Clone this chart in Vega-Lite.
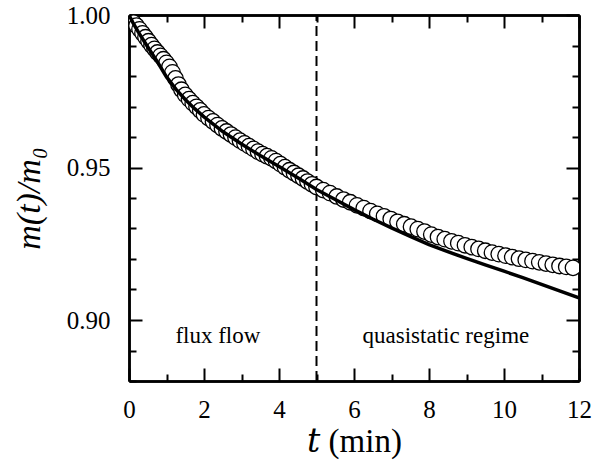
{
  "$schema": "https://vega.github.io/schema/vega-lite/v6.json",
  "width": 450,
  "height": 366,
  "autosize": "none",
  "padding": {"left": 129, "top": 15, "right": 23, "bottom": 84},
  "background": "white",
  "datasets": {
    "pts": [
      {"t": 0.05, "m": 0.9985}, {"t": 0.12, "m": 0.9975}, {"t": 0.2, "m": 0.9965}, {"t": 0.28, "m": 0.9953},
      {"t": 0.36, "m": 0.994}, {"t": 0.44, "m": 0.9927}, {"t": 0.52, "m": 0.9914}, {"t": 0.6, "m": 0.9901},
      {"t": 0.68, "m": 0.9889}, {"t": 0.76, "m": 0.9877}, {"t": 0.84, "m": 0.9866}, {"t": 0.92, "m": 0.9855},
      {"t": 1.0, "m": 0.9843}, {"t": 1.08, "m": 0.983}, {"t": 1.16, "m": 0.9812}, {"t": 1.24, "m": 0.9792},
      {"t": 1.32, "m": 0.9772}, {"t": 1.4, "m": 0.9755}, {"t": 1.5, "m": 0.9738}, {"t": 1.6, "m": 0.9724},
      {"t": 1.7, "m": 0.9711}, {"t": 1.8, "m": 0.9699}, {"t": 1.9, "m": 0.9687}, {"t": 2.0, "m": 0.9674},
      {"t": 2.12, "m": 0.9662}, {"t": 2.24, "m": 0.9651}, {"t": 2.36, "m": 0.9639}, {"t": 2.48, "m": 0.9628},
      {"t": 2.6, "m": 0.9618}, {"t": 2.72, "m": 0.9608}, {"t": 2.84, "m": 0.9598}, {"t": 2.96, "m": 0.9588},
      {"t": 3.08, "m": 0.9579}, {"t": 3.2, "m": 0.957}, {"t": 3.32, "m": 0.9561}, {"t": 3.44, "m": 0.9552},
      {"t": 3.56, "m": 0.9544}, {"t": 3.68, "m": 0.9537}, {"t": 3.8, "m": 0.953}, {"t": 3.92, "m": 0.9521},
      {"t": 4.04, "m": 0.9511}, {"t": 4.16, "m": 0.9501}, {"t": 4.28, "m": 0.9491}, {"t": 4.4, "m": 0.9482},
      {"t": 4.52, "m": 0.9473}, {"t": 4.64, "m": 0.9464}, {"t": 4.76, "m": 0.9454}, {"t": 4.88, "m": 0.9445},
      {"t": 5.0, "m": 0.9436}, {"t": 5.18, "m": 0.9426}, {"t": 5.36, "m": 0.9416}, {"t": 5.54, "m": 0.9405},
      {"t": 5.72, "m": 0.9395}, {"t": 5.9, "m": 0.9386}, {"t": 6.08, "m": 0.9376}, {"t": 6.26, "m": 0.9367},
      {"t": 6.44, "m": 0.9357}, {"t": 6.62, "m": 0.9348}, {"t": 6.8, "m": 0.934}, {"t": 6.98, "m": 0.9331},
      {"t": 7.16, "m": 0.9322}, {"t": 7.34, "m": 0.9314}, {"t": 7.52, "m": 0.9306}, {"t": 7.7, "m": 0.9298},
      {"t": 7.88, "m": 0.929}, {"t": 8.06, "m": 0.928}, {"t": 8.24, "m": 0.9272}, {"t": 8.42, "m": 0.9265},
      {"t": 8.6, "m": 0.9258}, {"t": 8.78, "m": 0.9252}, {"t": 8.96, "m": 0.9245}, {"t": 9.14, "m": 0.9239},
      {"t": 9.32, "m": 0.9233}, {"t": 9.5, "m": 0.9227}, {"t": 9.68, "m": 0.9221}, {"t": 9.86, "m": 0.9216},
      {"t": 10.04, "m": 0.9211}, {"t": 10.22, "m": 0.9206}, {"t": 10.4, "m": 0.9201}, {"t": 10.58, "m": 0.9197},
      {"t": 10.76, "m": 0.9193}, {"t": 10.94, "m": 0.9189}, {"t": 11.12, "m": 0.9185}, {"t": 11.3, "m": 0.9181},
      {"t": 11.48, "m": 0.9177}, {"t": 11.66, "m": 0.9174}, {"t": 11.84, "m": 0.9171}
    ],
    "fit": [
      {"t": 0, "m": 1.0}, {"t": 0.1, "m": 0.9976}, {"t": 0.25, "m": 0.9944}, {"t": 0.5, "m": 0.9895},
      {"t": 0.75, "m": 0.9848}, {"t": 1.0, "m": 0.9797}, {"t": 1.25, "m": 0.9757}, {"t": 1.5, "m": 0.9723},
      {"t": 1.75, "m": 0.9693}, {"t": 2.0, "m": 0.9666}, {"t": 2.5, "m": 0.9618}, {"t": 3.0, "m": 0.9577},
      {"t": 3.5, "m": 0.9539}, {"t": 4.0, "m": 0.9503}, {"t": 4.5, "m": 0.9466}, {"t": 5.0, "m": 0.9428},
      {"t": 5.5, "m": 0.9395}, {"t": 6.0, "m": 0.9362}, {"t": 6.5, "m": 0.9331}, {"t": 7.0, "m": 0.9302},
      {"t": 7.5, "m": 0.9274}, {"t": 8.0, "m": 0.9247}, {"t": 8.5, "m": 0.9224}, {"t": 9.0, "m": 0.9202},
      {"t": 9.5, "m": 0.9181}, {"t": 10.0, "m": 0.916}, {"t": 10.5, "m": 0.9139}, {"t": 11.0, "m": 0.9117},
      {"t": 11.5, "m": 0.9095}, {"t": 12.0, "m": 0.9073}
    ],
    "marker": [{"t": 5}],
    "notes": [
      {"t": 2.37, "m": 0.8925, "label": "flux flow"},
      {"t": 8.45, "m": 0.8925, "label": "quasistatic regime"}
    ]
  },
  "resolve": {"axis": {"x": "independent", "y": "independent"}},
  "layer": [
    {
      "data": {"name": "marker"},
      "mark": {"type": "rule", "color": "black", "strokeWidth": 2, "strokeDash": [10, 5]},
      "encoding": {
        "x": {"field": "t", "type": "quantitative", "scale": {"domain": [0, 12], "nice": false, "zero": false},
          "axis": {"orient": "top", "offset": 0, "values": [0, 2, 4, 6, 8, 10, 12], "labels": false, "tickSize": -13, "title": null}},
        "y": {"datum": 0.88, "type": "quantitative", "scale": {"domain": [0.88, 1.0], "nice": false, "zero": false},
          "axis": {"orient": "right", "offset": 0, "values": [0.9, 0.95, 1.0], "labels": false, "tickSize": -13, "title": null}},
        "y2": {"datum": 1.0}
      }
    },
    {
      "data": {"name": "pts"},
      "mark": {"type": "point", "shape": "circle", "filled": false, "fill": "white", "fillOpacity": 1, "stroke": "black", "strokeWidth": 1.3, "opacity": 1, "size": 240, "clip": true},
      "encoding": {
        "x": {"field": "t", "type": "quantitative",
          "axis": {"orient": "bottom", "offset": 0, "values": [0, 2, 4, 6, 8, 10, 12], "tickSize": -13, "labelPadding": 29, "title": "𝑡 (min)", "titleFont": "Liberation Serif, DejaVu Serif", "titleFontSize": 33, "titlePadding": 3, "format": "d"}},
        "y": {"field": "m", "type": "quantitative",
          "axis": {"orient": "left", "offset": 0, "values": [0.9, 0.95, 1.0], "tickSize": -13, "labelPadding": 32, "format": ".2f", "title": "m(t)/m₀", "titleFontStyle": "italic", "titleFontSize": 34, "titlePadding": 20}}
      }
    },
    {
      "data": {"name": "fit"},
      "mark": {"type": "line", "color": "black", "strokeWidth": 3.5, "clip": true},
      "encoding": {
        "x": {"field": "t", "type": "quantitative",
          "axis": {"orient": "bottom", "offset": 0, "values": [1, 3, 5, 7, 9, 11], "labels": false, "tickSize": -7, "title": null}},
        "y": {"field": "m", "type": "quantitative",
          "axis": {"orient": "left", "offset": 0, "values": [0.88, 0.89, 0.91, 0.92, 0.93, 0.94, 0.96, 0.97, 0.98, 0.99], "labels": false, "tickSize": -7, "title": null}}
      }
    },
    {
      "data": {"name": "notes"},
      "mark": {"type": "text", "font": "Liberation Serif", "fontSize": 23, "color": "black", "align": "center", "baseline": "alphabetic"},
      "encoding": {
        "x": {"field": "t", "type": "quantitative",
          "axis": {"orient": "top", "offset": 0, "values": [1, 3, 5, 7, 9, 11], "labels": false, "tickSize": -7, "title": null}},
        "y": {"field": "m", "type": "quantitative",
          "axis": {"orient": "right", "offset": 0, "values": [0.88, 0.89, 0.91, 0.92, 0.93, 0.94, 0.96, 0.97, 0.98, 0.99], "labels": false, "tickSize": -7, "title": null}},
        "text": {"field": "label"}
      }
    }
  ],
  "config": {
    "view": {"stroke": null},
    "axis": {
      "grid": false,
      "zindex": 1,
      "domainColor": "black",
      "domainWidth": 2.5,
      "tickColor": "black",
      "tickWidth": 2,
      "labelFont": "Liberation Serif",
      "labelFontSize": 25,
      "labelColor": "black",
      "labelFlush": false,
      "labelOverlap": false,
      "titleFont": "Liberation Serif",
      "titleFontSize": 31,
      "titleFontWeight": "normal",
      "titleColor": "black"
    }
  }
}
